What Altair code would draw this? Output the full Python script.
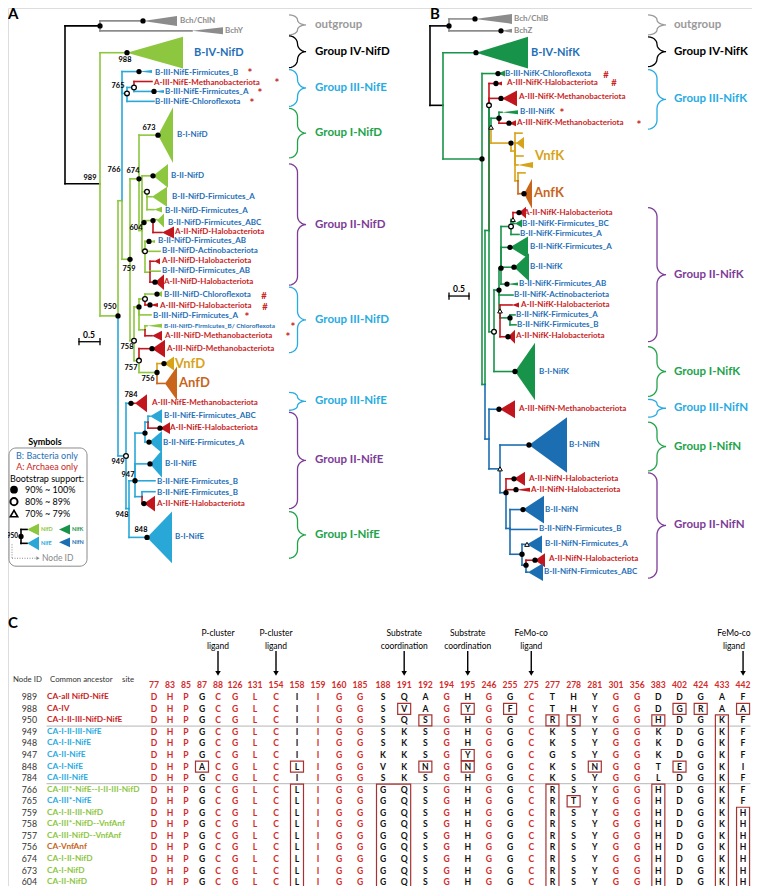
import altair as alt
import pandas as pd
import numpy as np

# ---------------- colours ----------------
COL = {"k": "#000000", "g": "#8C8C8C", "D": "#8DC63F", "E": "#29A8D8", "K": "#17944A",
       "N": "#1C6EB2", "R": "#C2161F", "V": "#D6A319", "A": "#C8651B",
       "bt": "#1F6FB8", "rt": "#C81E1E", "pu": "#7D3C98", "gr": "#22A34A", "cy": "#29ABE2",
       "og": "#9A9A9A", "tab": "#D42A2A", "box": "#A83232", "dk": "#333333"}

# ---------------- tree nodes: (id, parent, x, y, colour, support) ----------------
TREE_A = [
    ("A_root", None, 63, 183, "k", ""), ("A_og", "A_root", 98, 24, "k", "f"),
    ("A_bchN", "A_og", 141, 19, "g", "f"), ("A_bchY", "A_og", 190, 29, "g", ""),
    ("A_989", "A_root", 98, 183, "k", ""), ("A_IV", "A_989", 125, 51, "D", "f"),
    ("A_950", "A_989", 116, 316, "D", "f"), ("A_766", "A_950", 120, 200, "D", ""),
    ("A_765", "A_766", 120, 85, "E", ""), ("A_FB", "A_765", 137, 70, "E", "f"),
    ("A_765b", "A_765", 125, 92, "E", "o"), ("A_765c", "A_765b", 132, 86, "E", "o"),
    ("A_MethE1", "A_765c", 150, 80, "R", ""), ("A_FA", "A_765c", 152, 90, "E", "f"),
    ("A_Chl", "A_765b", 152, 100, "E", ""),
    ("A_759", "A_766", 128, 259, "D", "f"), ("A_674", "A_759", 137, 178, "D", "f"),
    ("A_673", "A_674", 156, 134, "D", "f"), ("A_D2", "A_674", 140, 230, "D", ""),
    ("A_BIID", "A_D2", 151, 175, "D", "f"), ("A_D3", "A_D2", 145, 191, "D", "o"),
    ("A_D3a", "A_D3", 150, 196, "D", ""), ("A_D3b", "A_D3", 152, 209, "D", ""),
    ("A_604", "A_D2", 142, 222, "D", "f"), ("A_D6", "A_604", 151, 220, "D", "f"),
    ("A_ABC", "A_D6", 155, 219, "D", ""), ("A_HaloD1", "A_D6", 160, 232, "R", ""),
    ("A_D5", "A_D2", 143, 251, "D", "o"), ("A_FAB", "A_D5", 147, 241, "D", "f"),
    ("A_Act", "A_D5", 158, 251, "D", ""), ("A_D7", "A_D5", 148, 272, "D", ""),
    ("A_HaloD2", "A_D7", 152, 261, "R", ""), ("A_FAB2", "A_D7", 158, 271, "D", ""),
    ("A_HaloD3", "A_D7", 153, 282, "R", "f"),
    ("A_758", "A_759", 132, 341, "D", "o"), ("A_III1", "A_758", 137, 307, "D", "f"),
    ("A_III2", "A_III1", 143, 299, "D", "o"), ("A_ChlD", "A_III2", 155, 294, "D", "f"),
    ("A_HaloD4", "A_III2", 148, 305, "R", "f"), ("A_FAD", "A_III1", 149, 315, "D", ""),
    ("A_III3", "A_III1", 143, 330, "D", ""), ("A_FBC", "A_III3", 145, 326, "D", ""),
    ("A_MethD", "A_III3", 150, 336, "R", ""),
    ("A_757", "A_758", 137, 361, "D", "o"), ("A_MethD2", "A_757", 150, 349, "R", "f"),
    ("A_756", "A_757", 155, 373, "D", "f"), ("A_Vnf", "A_756", 162, 364, "V", "f"),
    ("A_Anf", "A_756", 163, 384, "A", ""),
    ("A_949", "A_950", 124, 457, "E", "o"), ("A_784", "A_949", 129, 404, "E", "f"),
    ("A_MethE", "A_784", 133, 404, "R", ""), ("A_948", "A_949", 127, 510, "E", ""),
    ("A_947", "A_948", 133, 482, "E", "f"), ("A_E2", "A_947", 143, 434, "E", "f"),
    ("A_E4", "A_E2", 146, 423, "E", ""), ("A_ABCE", "A_E4", 148, 417, "E", ""),
    ("A_HaloE", "A_E4", 158, 429, "R", "f"), ("A_FAE", "A_E2", 147, 443, "E", "f"),
    ("A_BIIE", "A_947", 148, 465, "E", "f"), ("A_FBE", "A_947", 153, 482, "E", ""),
    ("A_E3", "A_947", 140, 498, "E", ""), ("A_FBE2", "A_E3", 153, 493, "E", ""),
    ("A_HaloE2", "A_E3", 142, 505, "R", "f"), ("A_848", "A_948", 145, 539, "E", "f"),
]
TREE_B = [
    ("B_root", None, 428, 104, "k", ""), ("B_og", "B_root", 447, 24, "k", "f"),
    ("B_bchB", "B_og", 473, 17, "g", "f"), ("B_bchZ", "B_og", 499, 29, "g", "f"),
    ("B_N1", "B_root", 441, 104, "k", ""), ("B_IV", "B_N1", 474, 51, "K", "f"),
    ("B_N2", "B_N1", 480, 158, "K", "f"), ("B_ChlK", "B_N2", 496, 72, "K", "f"),
    ("B_KN", "B_N2", 483, 385, "K", ""), ("B_N3", "B_KN", 487, 230, "K", ""),
    ("B_HaloK", "B_N3", 494, 82, "R", "f"), ("B_oc", "B_N3", 487, 104, "K", "o"),
    ("B_MethK", "B_oc", 499, 97, "R", "f"), ("B_ot", "B_oc", 489, 126, "K", "t"),
    ("B_N3a", "B_ot", 497, 117, "K", "f"), ("B_BIIIK", "B_N3a", 500, 111, "K", ""),
    ("B_MethK2", "B_N3a", 507, 122, "R", "f"), ("B_Vnf", "B_ot", 509, 142, "V", "f"),
    ("B_V1", "B_Vnf", 513, 150, "V", ""), ("B_Vt1", "B_V1", 520, 132, "V", ""),
    ("B_Vt2", "B_V1", 514, 142, "V", ""), ("B_Vt3", "B_V1", 521, 155, "V", ""),
    ("B_Vt4", "B_V1", 516, 164, "V", ""), ("B_V2", "B_V1", 516, 180, "V", ""),
    ("B_Vt5", "B_V2", 523, 172, "V", ""), ("B_Anf", "B_V2", 522, 193, "A", "f"),
    ("B_N3c", "B_N3", 492, 332, "K", "o"), ("B_K2", "B_N3c", 497, 290, "K", "f"),
    ("B_K3", "B_K2", 499, 268, "K", "f"), ("B_K6", "B_K3", 509, 226, "K", "o"),
    ("B_K7", "B_K6", 511, 219, "K", "t"), ("B_HaloK1", "B_K7", 517, 212, "R", "f"),
    ("B_FBC", "B_K7", 513, 223, "K", ""), ("B_FA1", "B_K6", 517, 234, "K", ""),
    ("B_FA2", "B_K3", 508, 247, "K", "f"), ("B_BIIK", "B_K3", 512, 267, "K", "f"),
    ("B_FAB", "B_K3", 505, 284, "K", "f"), ("B_Act", "B_K2", 511, 295, "K", ""),
    ("B_K4", "B_K2", 498, 311, "K", "t"), ("B_HaloK2", "B_K4", 510, 305, "R", ""),
    ("B_K8", "B_K4", 508, 318, "K", "f"), ("B_FA3", "B_K8", 513, 315, "K", ""),
    ("B_FB3", "B_K8", 514, 325, "K", ""), ("B_HaloK3", "B_K4", 506, 337, "R", "f"),
    ("B_BIK", "B_N3c", 513, 372, "K", "f"),
    ("B_N4", "B_KN", 487, 440, "N", ""), ("B_AIIIN", "B_N4", 497, 410, "N", "f"),
    ("B_N5", "B_N4", 498, 470, "N", "t"), ("B_BIN", "B_N5", 527, 446, "N", "f"),
    ("B_N6", "B_N5", 504, 494, "N", "f"), ("B_HaloN1", "B_N6", 512, 480, "R", "f"),
    ("B_HaloN2", "B_N6", 514, 491, "R", "f"), ("B_N7", "B_N6", 508, 530, "N", ""),
    ("B_BIIN", "B_N7", 521, 511, "N", "f"), ("B_FBN", "B_N7", 535, 531, "N", ""),
    ("B_N8", "B_N7", 520, 556, "N", "f"), ("B_FAN", "B_N8", 525, 546, "N", "t"),
    ("B_N9", "B_N8", 524, 567, "N", "f"), ("B_HaloN3", "B_N9", 533, 562, "R", "f"),
    ("B_ABCN", "B_N9", 526, 574, "N", ""),
]
LEGEND_TREE = [("L_950", None, 19, 538, "k", "f"), ("L_D", "L_950", 25, 531, "k", ""),
               ("L_E", "L_950", 25, 545, "k", "")]

# collapsed clades: (apex x, y, base x, half height, colour)
CLADES = [
    (141, 19, 175, 5, "g"), (190, 29, 221, 3.5, "g"), (125, 51, 181, 16, "D"),
    (137, 70, 150, 1.5, "E"), (152, 90, 162, 1.5, "E"), (156, 134, 171, 28, "D"),
    (151, 175, 166, 12, "D"), (150, 196, 165, 10, "D"), (152, 209, 160, 3, "D"),
    (155, 220, 162, 7, "D"), (160, 232, 172, 6, "R"), (147, 241, 153, 1.5, "D"),
    (152, 261, 158, 3, "R"), (153, 282, 162, 8, "R"), (155, 294, 160, 3, "D"),
    (148, 305, 156, 2, "R"), (145, 326, 160, 2, "D"), (150, 336, 160, 5, "R"),
    (150, 349, 163, 9, "R"), (162, 364, 172, 7, "V"), (163, 384, 175, 17, "A"),
    (133, 404, 145, 9, "R"), (148, 417, 160, 7, "E"), (158, 429, 168, 6, "R"),
    (147, 443, 160, 11, "E"), (148, 465, 160, 14, "E"), (142, 505, 153, 8, "R"),
    (145, 539, 170, 26, "E"),
    (473, 17, 510, 5, "g"), (499, 29, 510, 2, "g"), (474, 51, 526, 16, "K"),
    (496, 72, 503, 3, "K"), (494, 82, 500, 2, "R"), (500, 97, 515, 8, "R"),
    (500, 111, 516, 2, "K"), (507, 122, 514, 3, "R"), (514, 142, 522, 6, "V"),
    (516, 164, 531, 3, "V"), (522, 193, 530, 15, "A"), (517, 212, 524, 6, "R"),
    (513, 223, 520, 4, "K"), (508, 247, 526, 11, "K"), (512, 267, 527, 14, "K"),
    (505, 284, 516, 1.5, "K"), (510, 305, 517, 2.5, "R"), (506, 337, 513, 7, "R"),
    (513, 372, 533, 29, "K"), (498, 410, 513, 9, "R"), (527, 446, 565, 28, "N"),
    (512, 480, 523, 7, "R"), (514, 491, 528, 2, "R"), (521, 511, 542, 14, "N"),
    (525, 546, 540, 9, "N"), (533, 562, 543, 7, "R"), (526, 574, 541, 9, "N"),
    (25, 531, 37, 6, "D"), (25, 545, 37, 7, "E"), (57, 531, 68, 5, "K"), (57, 544, 68, 5, "N"),
]

# tip labels: (x, y, text, colour)
TIPS = [
    (178, 19, "Bch/ChlN", "g"), (223, 29, "BchY", "g"),
    (153, 71, "B-III-NifE-Firmicutes_B", "bt"), (152, 81.5, "A-III-NifE-Methanobacteriota", "rt"),
    (163, 91, "B-III-NifE-Firmicutes_A", "bt"), (153, 101, "B-III-NifE-Chloroflexota", "bt"),
    (175, 134, "B-I-NifD", "bt"), (169, 175, "B-II-NifD", "bt"),
    (170, 196, "B-II-NifD-Firmicutes_A", "bt"), (163, 210, "B-II-NifD-Firmicutes_A", "bt"),
    (166, 222, "B-II-NifD-Firmicutes_ABC", "bt"), (173, 232, "A-II-NifD-Halobacteriota", "rt"),
    (156, 241, "B-II-NifD-Firmicutes_AB", "bt"), (160, 251, "B-II-NifD-Actinobacteriota", "bt"),
    (160, 261, "A-II-NifD-Halobacteriota", "rt"), (160, 271, "B-II-NifD-Firmicutes_AB", "bt"),
    (162, 282, "A-II-NifD-Halobacteriota", "rt"), (162, 295, "B-III-NifD-Chloroflexota", "bt"),
    (158, 306, "A-III-NifD-Halobacteriota", "rt"), (151, 316, "B-III-NifD-Firmicutes_A", "bt"),
    (163, 336, "A-III-NifD-Methanobacteriota", "rt"), (165, 349, "A-III-NifD-Methanobacteriota", "rt"),
    (150, 404, "A-III-NifE-Methanobacteriota", "rt"), (162, 417, "B-II-NifE-Firmicutes_ABC", "bt"),
    (168, 429, "A-II-NifE-Halobacteriota", "rt"), (161, 444, "B-II-NifE-Firmicutes_A", "bt"),
    (163, 465, "B-II-NifE", "bt"), (155, 483, "B-II-NifE-Firmicutes_B", "bt"),
    (155, 494, "B-II-NifE-Firmicutes_B", "bt"), (155, 505, "A-II-NifE-Halobacteriota", "rt"),
    (173, 539, "B-I-NifE", "bt"),
    (512, 17, "Bch/ChlB", "g"), (512, 29, "BchZ", "g"),
    (503, 72, "B-III-NifK-Chloroflexota", "bt"), (505, 82, "A-III-NifK-Halobacteriota", "rt"),
    (517, 96, "A-III-NifK-Methanobacteriota", "rt"), (518, 111, "B-III-NifK", "bt"),
    (515, 122, "A-III-NifK-Methanobacteriota", "rt"), (522, 212, "A-II-NifK-Halobacteriota", "rt"),
    (520, 223, "B-II-NifK-Firmicutes_BC", "bt"), (518, 234, "B-II-NifK-Firmicutes_A", "bt"),
    (528, 247, "B-II-NifK-Firmicutes_A", "bt"), (528, 267, "B-II-NifK", "bt"),
    (517, 284, "B-II-NifK-Firmicutes_AB", "bt"), (512, 295, "B-II-NifK-Actinobacteriota", "bt"),
    (519, 305, "A-II-NifK-Halobacteriota", "rt"), (514, 315, "B-II-NifK-Firmicutes_A", "bt"),
    (515, 325, "B-II-NifK-Firmicutes_B", "bt"), (514, 336, "A-II-NifK-Halobacteriota", "rt"),
    (537, 372, "B-I-NifK", "bt"), (517, 410, "A-III-NifN-Methanobacteriota", "rt"),
    (567, 446, "B-I-NifN", "bt"), (527, 480, "A-II-NifN-Halobacteriota", "rt"),
    (529, 491, "A-II-NifN-Halobacteriota", "rt"), (543, 511, "B-II-NifN", "bt"),
    (537, 531, "B-II-NifN-Firmicutes_B", "bt"), (543, 546, "B-II-NifN-Firmicutes_A", "bt"),
    (547, 561, "A-II-NifN-Halobacteriota", "rt"), (542, 574, "B-II-NifN-Firmicutes_ABC", "bt"),
]
BIG_TIPS = [(192, 51, "B-IV-NifD", "bt", 11), (529, 51, "B-IV-NifK", "bt", 11),
            (173, 364, "VnfD", "V", 13), (177, 384, "AnfD", "A", 13),
            (533, 155, "VnfK", "V", 13), (532, 192, "AnfK", "A", 13)]
SMALL_TIPS = [(162, 326, "B-III-NifD-Firmicutes_B/ Chloroflexota", "bt")]
MARKS = [(248, 70, "*"), (275, 81, "*"), (258, 91, "*"), (250, 101, "*"), (245, 316, "*"),
         (291, 326, "*"), (286, 336, "*"), (262, 296, "#"), (263, 307, "#"),
         (604, 73, "#"), (612, 82, "#"), (560, 111, "*"), (637, 123, "*")]
NODE_IDS = [(123, 58, "988"), (116, 85, "765"), (147, 127, "673"), (112, 169, "766"),
            (131, 170, "674"), (88, 177, "989"), (134, 228, "604"), (127, 269, "759"),
            (108, 307, "950"), (125, 347, "758"), (129, 368, "757"), (146, 380, "756"),
            (129, 396, "784"), (116, 463, "949"), (126, 476, "947"), (120, 516, "948"),
            (139, 532, "848")]

# group braces: (top, bottom, label, colour)
GROUPS_A = [(13, 33, "outgroup", "og"), (34, 66, "Group IV-NifD", "k"),
            (68, 105, "Group III-NifE", "cy"), (107, 157, "Group I-NifD", "gr"),
            (163, 285, "Group II-NifD", "pu"), (287, 353, "Group III-NifD", "cy"),
            (393, 411, "Group III-NifE", "cy"), (413, 510, "Group II-NifE", "pu"),
            (513, 560, "Group I-NifE", "gr")]
GROUPS_B = [(13, 33, "outgroup", "og"), (35, 65, "Group IV-NifK", "k"),
            (68, 128, "Group III-NifK", "cy"), (207, 342, "Group II-NifK", "pu"),
            (347, 397, "Group I-NifK", "gr"), (400, 418, "Group III-NifN", "cy"),
            (423, 472, "Group I-NifN", "gr"), (474, 580, "Group II-NifN", "pu")]

# ---------------- panel C ----------------
SITES = [77, 83, 85, 87, 88, 126, 131, 154, 158, 159, 160, 185, 188, 191, 192, 194, 195,
         246, 255, 275, 277, 278, 281, 301, 356, 383, 402, 424, 433, 442]
SITE_X = [152, 168, 184, 200, 216, 233, 253, 274, 295, 316, 337, 358] + \
         [381 + 21.18 * k for k in range(18)]
CONSERVED = [77, 83, 85, 88, 126, 131, 154, 159, 160, 185, 194, 246, 275, 301, 356]
NODE_ROWS = ["989", "988", "950", "949", "948", "947", "848", "784", "766", "765",
             "759", "758", "757", "756", "674", "673", "604"]
ANCESTORS = ["CA-all NifD-NifE", "CA-IV", "CA-I-II-III-NifD-NifE", "CA-I-II-III-NifE",
             "CA-I-II-NifE", "CA-II-NifE", "CA-I-NifE", "CA-III-NifE",
             "CA-III*-NifE--I-II-III-NifD", "CA-III*-NifE", "CA-I-II-III-NifD",
             "CA-III*-NifD--VnfAnf", "CA-III-NifD--VnfAnf", "CA-VnfAnf", "CA-I-II-NifD",
             "CA-I-NifD", "CA-II-NifD"]
ANC_COL = ["rt", "rt", "rt", "cy", "cy", "cy", "cy", "cy", "D", "cy", "D", "D", "D", "A", "D", "D", "D"]
RESIDUES = [
    "DHPGCGLCIIGGSQAGHGGCTHYGGDDGAF",
    "DHPGCGLCIIGGSVAGYGFCTHYGGDGRAA",
    "DHPGCGLCIIGGSQSGHGGCRSYGGHDGKF",
    "DHPGCGLCIIGGSKSGHGGCKSYGGKDGKF",
    "DHPGCGLCIIGGSKSGHGGCKSYGGKDGKF",
    "DHPGCGLCIIGGKKSGYGGCGSYGGKDGKF",
    "DHPACGLCLIGGVKNGNGGCKSNGGTEGKI",
    "DHPGCGLCIIGGSKSGHGGCKSYGGLDGKF",
    "DHPGCGLCLIGGGQSGHGGCRSYGGHDGKF",
    "DHPGCGLCLIGGGQSGHGGCRTYGGHDGKF",
    "DHPGCGLCLIGGGQSGHGGCRSYGGHDGKH",
    "DHPGCGLCLIGGGQSGHGGCRSYGGHDGKH",
    "DHPGCGLCLIGGGQSGHGGCRSYGGHDGKH",
    "DHPGCGLCLIGGGQSGHGGCRSYGGHDGKH",
    "DHPGCGLCLIGGGQSGHGGCRSYGGHDGKH",
    "DHPGCGLCLIGGGQSGHGGCRSYGGHDGKH",
    "DHPGCGLCLIGGGQSGHGGCRSYGGHDGKH",
]
# boxes: (first site, last site, first row, last row)
BOXES = [(191, 191, 1, 1), (195, 195, 1, 1), (255, 255, 1, 1), (402, 402, 1, 1),
         (424, 424, 1, 1), (442, 442, 1, 1), (192, 192, 2, 2), (277, 277, 2, 2),
         (278, 278, 2, 2), (383, 383, 2, 2), (195, 195, 5, 5), (87, 87, 6, 6),
         (158, 158, 6, 6), (192, 192, 6, 6), (195, 195, 6, 6), (281, 281, 6, 6),
         (402, 402, 6, 6), (278, 278, 9, 9), (158, 158, 8, 16), (188, 191, 8, 16),
         (277, 277, 8, 16), (383, 383, 8, 16), (433, 433, 2, 16), (442, 442, 10, 16)]
ANNOT = [(88, "P-cluster", "ligand"), (154, "P-cluster", "ligand"),
         (191, "Substrate", "coordination"), (195, "Substrate", "coordination"),
         (275, "FeMo-co", "ligand"), (442, "FeMo-co", "ligand")]
ROW_Y0, ROW_DY = 700, 11.63

FONT = "Lato"
XS = alt.Scale(domain=[6, 750], nice=False, zero=False)
YS = alt.Scale(domain=[6, 890], nice=False, zero=False, reverse=True)
X = alt.X("x:Q", scale=XS, axis=None)
Y = alt.Y("y:Q", scale=YS, axis=None)
CC = alt.Color("c:N", scale=None)

# ---------------- build tables ----------------
segs, dots = [], []
for tree in (TREE_A, TREE_B, LEGEND_TREE):
    pos = {n[0]: n for n in tree}
    for nid, par, x, y, ck, sup in tree:
        if sup:
            dots.append({"x": x, "y": y, "s": sup})
        if par is None:
            continue
        p = pos[par]
        c = COL[ck]
        if p[3] != y:
            segs.append({"x": p[2], "x2": p[2], "y": p[3], "y2": y, "c": c, "w": 1.6})
        if p[2] != x:
            segs.append({"x": p[2], "x2": x, "y": y, "y2": y, "c": c, "w": 1.6})

# scale bars
for x0, x1, yb in [(77, 98, 342), (447, 467, 296)]:
    segs.append({"x": x0, "x2": x1, "y": yb, "y2": yb, "c": "#000", "w": 1.3})
    segs.append({"x": x0, "x2": x0, "y": yb - 3, "y2": yb + 3, "c": "#000", "w": 1.3})
    segs.append({"x": x1, "x2": x1, "y": yb - 3, "y2": yb + 3, "c": "#000", "w": 1.3})

# separators in table
for ys in [729, 787]:
    segs.append({"x": 45, "x2": 748, "y": ys, "y2": ys, "c": "#B5B5B5", "w": 1})

# annotation arrows
site_x = dict(zip(SITES, SITE_X))
arrows = []
for s, l1, l2 in ANNOT:
    xa = site_x[s]
    segs.append({"x": xa, "x2": xa, "y": 654, "y2": 674, "c": "#000", "w": 1.4})
    arrows.append({"x": xa, "y": 676})

seg_df = pd.DataFrame(segs)

tri_rows = []
for i, (ax, yy, bx, h, ck) in enumerate(CLADES):
    tri_rows.append({"tid": i, "x": ax, "y": yy, "y2": yy, "c": COL[ck]})
    tri_rows.append({"tid": i, "x": bx, "y": yy - h, "y2": yy + h, "c": COL[ck]})
tri_df = pd.DataFrame(tri_rows)

dot_df = pd.DataFrame(dots)


def brace(y0, y1, x0, w, n=7):
    """Points of a curly brace between y0 and y1, opening to the left."""
    ym = (y0 + y1) / 2.0
    r = min(w / 2.0, (ym - y0) / 2.0)
    h = w / 2.0
    pts = [(x0 + h * np.cos(t), y0 + r + r * np.sin(t)) for t in np.linspace(-np.pi / 2, 0, n)]
    pts += [(x0 + w + h * np.cos(t), ym - r + r * np.sin(t)) for t in np.linspace(np.pi, np.pi / 2, n)]
    pts += [(x0 + w + h * np.cos(t), ym + r + r * np.sin(t)) for t in np.linspace(3 * np.pi / 2, np.pi, n)]
    pts += [(x0 + h * np.cos(t), y1 - r + r * np.sin(t)) for t in np.linspace(0, np.pi / 2, n)]
    return pts


br_rows, grp_txt = [], []
bid = 0
for groups, bx0, bw, lx in [(GROUPS_A, 287, 17, 313), (GROUPS_B, 646, 18, 672)]:
    for y0, y1, lab, ck in groups:
        for i, (px, py) in enumerate(brace(y0, y1, bx0, bw)):
            br_rows.append({"bid": bid, "i": i, "x": px, "y": py, "c": COL[ck]})
        grp_txt.append({"x": lx, "y": (y0 + y1) / 2.0, "t": lab, "c": COL[ck]})
        bid += 1
br_df = pd.DataFrame(br_rows)

# texts
T = []


def addt(x, y, t, c, s, al="left", wt="bold"):
    T.append({"x": x, "y": y, "t": t, "c": c, "s": s, "al": al, "wt": wt})


for x, y, t, ck in TIPS:
    addt(x, y, t, COL[ck], 8.0)
for x, y, t, ck, s in BIG_TIPS:
    addt(x, y, t, COL[ck], s)
for x, y, t, ck in SMALL_TIPS:
    addt(x, y, t, COL[ck], 6.4)
for x, y, t in MARKS:
    addt(x, y + (2 if t == "*" else 0), t, COL["rt"], 11.5 if t == "*" else 9.5, "center")
for x, y, t in NODE_IDS:
    addt(x, y, t, "#000", 7.4, "center")
for g in grp_txt:
    addt(g["x"], g["y"], g["t"], g["c"], 11.5)
addt(87, 335, "0.5", "#000", 8.5, "center")
addt(457, 289, "0.5", "#000", 8.5, "center")
addt(6, 12, "A", "#000", 15)
addt(428, 12, "B", "#000", 15)
addt(6, 625, "C", "#000", 15)
# legend
addt(43, 443, "Symbols", "#000", 9, "center")
addt(45, 457, "B: Bacteria only", COL["bt"], 9, "center", "normal")
addt(45, 468, "A: Archaea only", COL["rt"], 9, "center", "normal")
addt(45, 480, "Bootstrap support:", "#000", 9, "center", "normal")
for yy, t in [(491, "90% ~ 100%"), (503, "80% ~ 89%"), (515, "70% ~ 79%")]:
    addt(23, yy, t, "#000", 9, "left", "normal")
addt(16, 538, "950", "#000", 6.5, "right")
addt(39, 531, "NifD", COL["D"], 5.5)
addt(39, 545, "NifE", COL["E"], 5.5)
addt(70, 531, "NifK", COL["K"], 5.5)
addt(70, 544, "NifN", COL["N"], 5.5)
addt(40, 560, "Node ID", "#888", 8.5, "left", "normal")
# panel C
addt(11, 683, "Node ID", COL["dk"], 7.8, "left", "normal")
addt(48, 683, "Common ancestor", COL["dk"], 7.8, "left", "normal")
addt(120, 683, "site", COL["dk"], 7.8, "left", "normal")
for s, xs_ in zip(SITES, SITE_X):
    addt(xs_, 688, str(s), COL["tab"], 8.6, "center")
for r, (nid, anc, ac, seq) in enumerate(zip(NODE_ROWS, ANCESTORS, ANC_COL, RESIDUES)):
    yy = ROW_Y0 + r * ROW_DY
    addt(35, yy, nid, COL["dk"], 8.8, "right", "normal")
    addt(45, yy, anc, COL[ac], 8.3)
    for s, xs_, ch in zip(SITES, SITE_X, seq):
        addt(xs_, yy, ch, COL["tab"] if s in CONSERVED else "#111", 8.6, "center")
for s, l1, l2 in ANNOT:
    xa = site_x[s]
    xt = min(xa, 732)
    addt(xt, 635, l1, "#000", 8.5, "center", "normal")
    addt(xt, 648, l2, "#000", 8.5, "center", "normal")
txt_df = pd.DataFrame(T)

box_rows = []
for s0, s1, r0, r1 in BOXES:
    box_rows.append({"x": site_x[s0] - 6.5, "x2": site_x[s1] + 6.5,
                     "y": ROW_Y0 + r0 * ROW_DY - 5.6, "y2": ROW_Y0 + r1 * ROW_DY + 5.6})
box_df = pd.DataFrame(box_rows)

# ---------------- layers ----------------
layers = []
layers.append(alt.Chart(pd.DataFrame([{"x": 7, "x2": 85, "y": 449, "y2": 568}])).mark_rect(
    fillOpacity=0, stroke="#8A8A8A", strokeWidth=1, cornerRadius=7).encode(x=X, x2="x2:Q", y=Y, y2="y2:Q"))
layers.append(alt.Chart(tri_df).mark_area(orient="vertical", interpolate="linear").encode(
    x=X, y=Y, y2="y2:Q", detail="tid:N", color=CC))
layers.append(alt.Chart(seg_df).mark_rule(strokeCap="square").encode(
    x=X, x2="x2:Q", y=Y, y2="y2:Q", color=CC, strokeWidth=alt.StrokeWidth("w:Q", scale=None)))
dotted = pd.DataFrame([{"x": 10, "x2": 10, "y": 546, "y2": 560}, {"x": 10, "x2": 35, "y": 560, "y2": 560}])
layers.append(alt.Chart(dotted).mark_rule(strokeDash=[1, 1.5], color="#888", strokeWidth=1).encode(
    x=X, x2="x2:Q", y=Y, y2="y2:Q"))
layers.append(alt.Chart(pd.DataFrame([{"x": 36, "y": 560}])).mark_point(
    shape="triangle-right", filled=True, color="#888", size=14, opacity=1).encode(x=X, y=Y))
layers.append(alt.Chart(br_df).mark_line(strokeWidth=1.3).encode(
    x=X, y=Y, detail="bid:N", order="i:Q", color=CC))
layers.append(alt.Chart(box_df).mark_rect(fillOpacity=0, stroke=COL["box"], strokeWidth=1.2).encode(
    x=X, x2="x2:Q", y=Y, y2="y2:Q"))
layers.append(alt.Chart(pd.DataFrame(arrows)).mark_point(
    shape="triangle-down", filled=True, color="#000", size=30, opacity=1).encode(x=X, y=Y))
layers.append(alt.Chart(dot_df[dot_df.s == "f"]).mark_point(
    shape="circle", filled=True, color="#000", size=28, opacity=1).encode(x=X, y=Y))
layers.append(alt.Chart(dot_df[dot_df.s == "o"]).mark_point(
    shape="circle", filled=True, fill="white", stroke="#000", strokeWidth=1.3, size=22, opacity=1).encode(x=X, y=Y))
layers.append(alt.Chart(dot_df[dot_df.s == "t"]).mark_point(
    shape="triangle-up", filled=True, fill="white", stroke="#000", strokeWidth=1, size=22, opacity=1).encode(x=X, y=Y))
leg_sym = pd.DataFrame([{"x": 12, "y": 491, "s": "f"}, {"x": 12, "y": 503, "s": "o"}, {"x": 12, "y": 515, "s": "t"}])
layers.append(alt.Chart(leg_sym[leg_sym.s == "f"]).mark_point(
    shape="circle", filled=True, color="#000", size=60, opacity=1).encode(x=X, y=Y))
layers.append(alt.Chart(leg_sym[leg_sym.s == "o"]).mark_point(
    shape="circle", filled=True, fill="white", stroke="#000", strokeWidth=2, size=50, opacity=1).encode(x=X, y=Y))
layers.append(alt.Chart(leg_sym[leg_sym.s == "t"]).mark_point(
    shape="triangle-up", filled=True, fill="white", stroke="#000", strokeWidth=1.6, size=55, opacity=1).encode(x=X, y=Y))

for (al, wt), sub in txt_df.groupby(["al", "wt"]):
    layers.append(alt.Chart(sub).mark_text(align=al, baseline="middle", fontWeight=wt, font=FONT).encode(
        x=X, y=Y, text="t:N", color=CC, size=alt.Size("s:Q", scale=None)))

chart = alt.layer(*layers).properties(width=744, height=878, padding=0, autosize="none").configure_view(
    stroke=None).configure(background="white")
chart.save("out.html", embed_options={"renderer": "svg", "actions": False})
